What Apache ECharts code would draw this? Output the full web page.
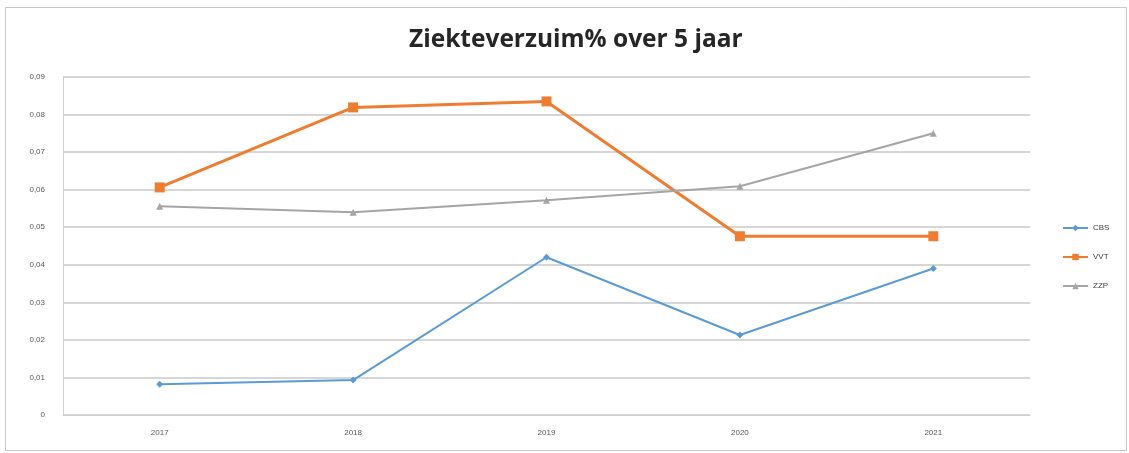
<!DOCTYPE html>
<html>
<head>
<meta charset="utf-8">
<script src="https://cdn.jsdelivr.net/npm/echarts@6/dist/echarts.min.js"></script>
<style>html,body{margin:0;padding:0;background:#fff}#c{width:1129px;height:453px}</style>
</head>
<body>
<div id="c"></div>
<script>
const categories = ['2017', '2018', '2019', '2020', '2021'];
const seriesNames = ['CBS', 'VVT', 'ZZP'];
const blueValues = [0.0082, 0.0093, 0.0420, 0.0213, 0.0390];
const orangeValues = [0.0606, 0.0819, 0.0835, 0.0476, 0.0476];
const greyValues = [0.0556, 0.0540, 0.0572, 0.0609, 0.0750];

const chart = echarts.init(document.getElementById('c'));
const lbl = { color: '#595959', fontSize: 8, fontFamily: 'Liberation Sans' };
chart.setOption({
  animation: false,
  backgroundColor: '#fff',
  title: {
    text: 'Ziekteverzuim% over 5 jaar',
    left: 404, top: 23,
    textStyle: { fontFamily: 'Open Sans', fontWeight: 'bold', fontSize: 24.5, color: '#262626' }
  },
  graphic: [{
    type: 'rect', shape: { x: 5.5, y: 7.5, width: 1121, height: 443 },
    style: { fill: 'none', stroke: '#c8c8c8', lineWidth: 1 }, silent: true
  }],
  legend: {
    orient: 'vertical', left: 1057, top: 219, itemGap: 21,
    itemWidth: 25, itemHeight: 8,
    textStyle: { color: '#404040', fontSize: 8, fontFamily: 'Liberation Sans' },
    data: seriesNames
  },
  grid: { left: 63, right: 99, top: 77, bottom: 38 },
  xAxis: {
    type: 'category', data: categories, boundaryGap: true,
    axisLine: { lineStyle: { color: '#cfcfcf', width: 1 } },
    axisTick: { show: false },
    axisLabel: Object.assign({ margin: 14 }, lbl)
  },
  yAxis: {
    type: 'value', min: 0, max: 0.09, interval: 0.01,
    axisLine: { show: true, lineStyle: { color: '#cfcfcf' } },
    axisTick: { show: false },
    splitLine: { lineStyle: { color: '#d6d6d6', width: 2 } },
    axisLabel: Object.assign({ margin: 18, formatter: v => v === 0 ? '0' : v.toFixed(2).replace('.', ',') }, lbl)
  },
  series: [
    { name: seriesNames[0], type: 'line', data: blueValues, color: '#5b9bd5',
      lineStyle: { width: 2 }, symbol: 'diamond', symbolSize: 7, itemStyle: { color: '#5b9bd5' } },
    { name: seriesNames[1], type: 'line', data: orangeValues, color: '#ed7d31',
      lineStyle: { width: 3 }, symbol: 'rect', symbolSize: 10, itemStyle: { color: '#ed7d31' } },
    { name: seriesNames[2], type: 'line', data: greyValues, color: '#a5a5a5',
      lineStyle: { width: 2 }, symbol: 'triangle', symbolSize: 7, itemStyle: { color: '#a5a5a5' } }
  ]
});
</script>
</body>
</html>
